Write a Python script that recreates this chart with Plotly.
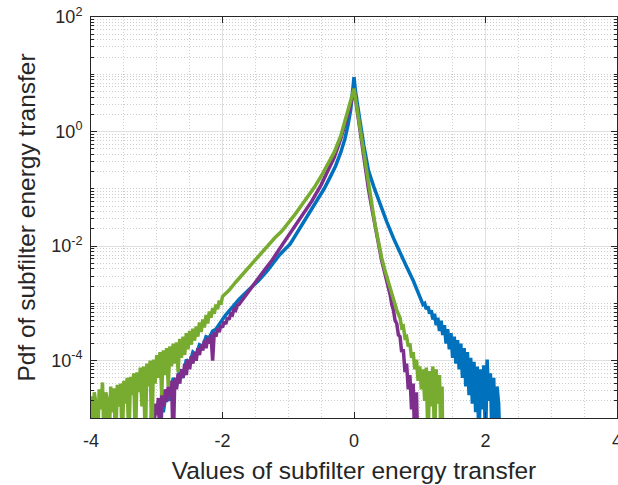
import plotly.graph_objects as go

# ---------------- data (x = value of subfilter energy transfer, y = log10 of pdf) ----------------
blue_x = [-2.95, -2.92, -2.90, -2.85, -2.80, -2.75, -2.70, -2.65, -2.60, -2.55, -2.50, -2.45,
          -2.40, -2.35, -2.30, -2.25, -2.20, -2.15, -2.10, -2.05, -2.00, -1.95, -1.90, -1.84,
          -1.75, -1.60, -1.45, -1.32, -1.13, -0.97, -0.85, -0.75, -0.62, -0.56, -0.45, -0.365,
          -0.28, -0.20, -0.137, -0.09, -0.05, -0.02, 0.00,
          0.02, 0.05, 0.09, 0.15, 0.22, 0.30, 0.40, 0.50, 0.60, 0.70, 0.80, 0.90, 1.00,
          1.025, 1.050, 1.075, 1.100, 1.125, 1.150, 1.175, 1.200, 1.225, 1.250, 1.275, 1.300,
          1.325, 1.350, 1.375, 1.400, 1.425, 1.450, 1.475, 1.500, 1.525, 1.550, 1.575, 1.600,
          1.625, 1.650, 1.675, 1.700, 1.725, 1.750, 1.775, 1.800, 1.825, 1.850, 1.875, 1.900,
          1.925, 1.950, 1.975, 2.000, 2.025, 2.050, 2.075, 2.100, 2.125, 2.150, 2.175, 2.200,
          2.220]
blue_log_pdf = [-5.5, -4.75, -4.90, -4.50, -4.70, -4.30, -4.45, -4.15, -4.30, -3.98, -4.05, -3.85,
                -3.90, -3.72, -3.75, -3.58, -3.60, -3.48, -3.45, -3.35, -3.28, -3.20, -3.13, -3.05,
                -2.93, -2.76, -2.60, -2.43, -2.15, -1.96, -1.74, -1.56, -1.33, -1.21, -0.99, -0.80,
                -0.60, -0.36, -0.12, 0.12, 0.38, 0.72, 0.95,
                0.72, 0.45, 0.19, -0.25, -0.68, -0.96, -1.28, -1.58, -1.86, -2.12, -2.36, -2.60, -2.88,
                -2.96, -3.02, -3.00, -3.10, -3.05, -3.18, -3.12, -3.28, -3.18, -3.38, -3.25, -3.48,
                -3.30, -3.55, -3.38, -3.70, -3.45, -3.80, -3.52, -3.95, -3.58, -4.05, -3.64, -4.15,
                -3.70, -4.30, -3.78, -4.45, -3.85, -4.60, -3.95, -4.75, -4.02, -4.90, -4.10, -5.5,
                -4.15, -4.85, -4.08, -5.5, -3.98, -4.70, -4.22, -5.5, -4.30, -5.5, -4.45, -4.75,
                -5.5]

purple_x = [-3.100, -3.075, -3.050, -3.025, -3.000, -2.975, -2.950, -2.925, -2.900, -2.875,
            -2.850, -2.825, -2.800, -2.775, -2.750, -2.725, -2.700, -2.675, -2.650, -2.625,
            -2.600, -2.575, -2.550, -2.525, -2.500, -2.475, -2.450, -2.425, -2.400, -2.375,
            -2.350, -2.325, -2.300, -2.275, -2.250, -2.225, -2.200, -2.175, -2.150, -2.125,
            -2.100, -2.075, -2.050, -2.025, -2.000, -1.975, -1.950, -1.925, -1.900, -1.875,
            -1.850, -1.825, -1.800, -1.775, -1.750,
            -1.60, -1.48, -1.35, -1.25, -1.08, -0.90, -0.75, -0.64, -0.50, -0.40, -0.30, -0.20,
            -0.12, -0.05, 0.00,
            0.04, 0.08, 0.13, 0.18, 0.22, 0.27, 0.32, 0.37, 0.42, 0.47, 0.52,
            0.550, 0.575, 0.600, 0.625, 0.650, 0.675, 0.700, 0.725, 0.750, 0.775, 0.800, 0.825,
            0.850, 0.875, 0.900, 0.925, 0.950, 0.970]
purple_log_pdf = [-5.5, -4.85, -5.5, -4.75, -4.95, -4.65, -5.5, -4.58, -4.80, -4.50,
                  -4.72, -4.45, -4.62, -4.35, -5.5, -4.30, -4.50, -4.22, -4.40, -4.15,
                  -4.30, -4.05, -4.25, -3.98, -4.15, -3.92, -4.05, -3.85, -4.00, -3.78,
                  -3.90, -3.72, -3.82, -3.65, -3.78, -3.60, -3.70, -3.55, -4.00, -3.50,
                  -3.58, -3.44, -3.50, -3.38, -3.42, -3.32, -3.36, -3.25, -3.28, -3.18,
                  -3.20, -3.10, -3.12, -3.03, -3.02,
                  -2.80, -2.60, -2.40, -2.25, -1.96, -1.65, -1.40, -1.21, -0.93, -0.70, -0.45, -0.12,
                  0.18, 0.47, 0.75,
                  0.43, 0.12, -0.30, -0.73, -1.00, -1.33, -1.65, -1.97, -2.25, -2.48, -2.70,
                  -2.85, -3.02, -3.12, -3.30, -3.35, -3.55, -3.58, -3.85, -3.80, -4.20, -4.05, -4.50,
                  -4.25, -4.85, -4.40, -5.5, -4.55, -5.5]

green_x = [-4.000, -3.975, -3.950, -3.925, -3.900, -3.875, -3.850, -3.825, -3.800, -3.775,
           -3.750, -3.725, -3.700, -3.675, -3.650, -3.625, -3.600, -3.575, -3.550, -3.525,
           -3.500, -3.475, -3.450, -3.425, -3.400, -3.375, -3.350, -3.325, -3.300, -3.275,
           -3.250, -3.225, -3.200, -3.175, -3.150, -3.125, -3.100, -3.075, -3.050, -3.025,
           -3.000, -2.975, -2.950, -2.925, -2.900, -2.875, -2.850, -2.825, -2.800, -2.775,
           -2.750, -2.725, -2.700, -2.675, -2.650, -2.625, -2.600, -2.575, -2.550, -2.525,
           -2.500, -2.475, -2.450, -2.425, -2.400, -2.375, -2.350, -2.325, -2.300, -2.275,
           -2.250, -2.225, -2.200, -2.175, -2.150, -2.125, -2.100, -2.075, -2.050, -2.025,
           -2.000,
           -1.90, -1.80, -1.70, -1.60, -1.50, -1.40, -1.30, -1.20, -1.10, -1.00, -0.90, -0.80,
           -0.70, -0.60, -0.50, -0.40, -0.30, -0.20, -0.12, -0.06, 0.00,
           0.04, 0.08, 0.13, 0.18, 0.22, 0.27, 0.32, 0.37, 0.42, 0.47, 0.52, 0.57, 0.62,
           0.650, 0.675, 0.700, 0.725, 0.750, 0.775, 0.800, 0.825, 0.850, 0.875, 0.900, 0.925,
           0.950, 0.975, 1.000, 1.025, 1.050, 1.075, 1.100, 1.125, 1.150, 1.175, 1.200, 1.225,
           1.250, 1.275, 1.300, 1.325, 1.340, 1.350]
green_log_pdf = [-4.62, -5.5, -4.55, -4.75, -5.5, -4.50, -4.85, -4.38, -5.5, -4.55,
                 -4.70, -5.5, -4.45, -4.90, -4.48, -5.5, -4.42, -4.80, -4.40, -5.5,
                 -4.35, -4.75, -4.30, -5.5, -4.28, -4.60, -4.22, -5.5, -4.20, -4.55,
                 -4.12, -4.80, -4.10, -5.5, -4.05, -4.45, -4.00, -5.5, -3.98, -4.40,
                 -3.90, -4.30, -3.85, -4.60, -3.82, -4.25, -3.78, -4.45, -3.75, -4.10,
                 -3.70, -4.05, -3.68, -4.20, -3.62, -3.95, -3.58, -3.90, -3.52, -3.80,
                 -3.48, -3.72, -3.44, -3.65, -3.40, -3.58, -3.33, -3.50, -3.28, -3.42,
                 -3.20, -3.35, -3.14, -3.25, -3.08, -3.18, -3.02, -3.10, -2.95, -3.02,
                 -2.88,
                 -2.77, -2.63, -2.50, -2.36, -2.22, -2.09, -1.96, -1.85, -1.74, -1.60, -1.45, -1.29,
                 -1.13, -0.97, -0.78, -0.58, -0.36, -0.07, 0.28, 0.50, 0.75,
                 0.45, 0.15, -0.25, -0.68, -0.95, -1.26, -1.62, -1.95, -2.20, -2.42, -2.60, -2.80, -3.00,
                 -3.12, -3.20, -3.25, -3.42, -3.40, -3.60, -3.58, -3.75, -3.70, -3.95, -3.85, -4.15,
                 -3.98, -4.35, -4.10, -4.50, -4.15, -4.70, -4.12, -5.5, -4.18, -4.80, -4.10, -5.5,
                 -4.15, -4.75, -4.25, -5.5, -4.45, -5.5]

series = [
    ("blue", blue_x, blue_log_pdf, "#0072BD"),
    ("purple", purple_x, purple_log_pdf, "#7E2F8E"),
    ("green", green_x, green_log_pdf, "#77AC30"),
]

y_major = [1e-4, 1e-2, 1e0, 1e2]
y_major_text = ["10<sup>-4</sup>", "10<sup>-2</sup>", "10<sup>0</sup>", "10<sup>2</sup>"]
x_major = [-4, -2, 0, 2, 4]
x_major_text = ["-4", "-2", "0", "2", "4"]

# ---------------- figure ----------------
fig = go.Figure()
for name, xs, ls, col in series:
    fig.add_trace(go.Scatter(
        x=xs, y=[10.0 ** v for v in ls], mode="lines", name=name,
        line=dict(color=col, width=3.5), hoverinfo="skip", cliponaxis=True))

axis_col = "#262626"
grid_col = "#e0e0e0"
minor_col = "#cdcdcd"
y_minor = [m * 10.0 ** k for k in range(-5, 2) for m in range(1, 10)
           if not (m == 1 and k in (-4, -2, 0))]

fig.update_xaxes(
    range=[-4, 4], tickmode="array", tickvals=x_major, ticktext=x_major_text,
    automargin=False, ticklabeloverflow="allow",
    ticks="inside", ticklen=6, tickcolor=axis_col, tickwidth=1,
    showline=True, linecolor=axis_col, linewidth=1, mirror="ticks",
    showgrid=True, gridcolor=grid_col, gridwidth=1, zeroline=False,
    minor=dict(dtick=0.5, tick0=0, showgrid=True, gridcolor=minor_col,
               griddash="1px,2px", ticks=""),
    tickfont=dict(size=18, color=axis_col), ticklabelstandoff=6,
    title=dict(text="Values of subfilter energy transfer",
               font=dict(size=24.5, color=axis_col), standoff=12),
)
fig.update_yaxes(
    type="log", range=[-5, 2], tickmode="array", tickvals=y_major, ticktext=y_major_text,
    automargin=False,
    ticks="inside", ticklen=6, tickcolor=axis_col, tickwidth=1,
    showline=True, linecolor=axis_col, linewidth=1, mirror="ticks",
    showgrid=True, gridcolor=grid_col, gridwidth=1, zeroline=False,
    minor=dict(tickmode="array", tickvals=y_minor, showgrid=True, gridcolor=minor_col,
               griddash="1px,2px", ticks="inside", ticklen=3, tickcolor=axis_col),
    tickfont=dict(size=18, color=axis_col), ticklabelstandoff=4,
    title=dict(text="Pdf of subfilter energy transfer",
               font=dict(size=24.5, color=axis_col), standoff=8),
)
fig.update_layout(
    width=618, height=485,
    margin=dict(l=91, r=1, t=17, b=67, autoexpand=False),
    paper_bgcolor="white", plot_bgcolor="white",
    showlegend=False,
    font=dict(family="Liberation Sans, Arial, sans-serif", color=axis_col),
)
fig.write_html("out.html", config={"displayModeBar": False},
               post_script="document.body.style.margin='0';document.body.style.overflow='hidden';")
